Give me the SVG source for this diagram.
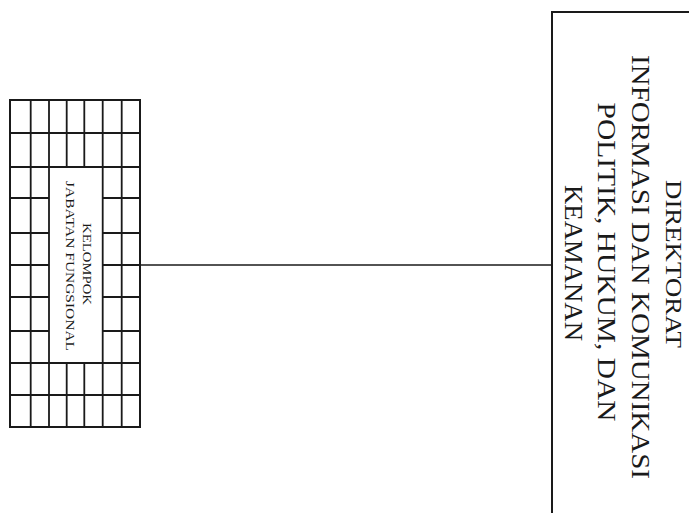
<svg xmlns="http://www.w3.org/2000/svg" width="689" height="513" viewBox="0 0 689 513">
<style>
.g{stroke:#1a1a1a;stroke-width:1.8;fill:none}
.box{stroke:#1a1a1a;stroke-width:2;fill:#fff}
.t{font-family:"Liberation Serif","Times New Roman",serif;fill:#1a1a1a;text-anchor:middle}
.big{font-size:25px}
.small{font-size:12px}
.conn{stroke:#1a1a1a;stroke-width:1.4;fill:none}
</style>
<rect width="689" height="513" fill="#fff"/>
<g id="connectors">
<line class="conn" x1="140" y1="265" x2="552" y2="265"/>
</g>
<g id="node-kelompok">
<rect class="box" x="10" y="100" width="130" height="327"/>
<path class="g" d="M30.7 100V427M49 100V427M102.7 100V427M121.7 100V427M66.7 100V167M84.3 100V167M66.7 363V427M84.3 363V427M10 133H140M10 167H140M10 363H140M10 395H140M10 198H49M10 233H49M10 265H49M10 297H49M10 331H49M102.7 198H140M102.7 233H140M102.7 265H140M102.7 297H140M102.7 331H140"/>
<text class="t small" transform="translate(83,264) rotate(90)" textLength="82" lengthAdjust="spacingAndGlyphs">KELOMPOK</text>
<text class="t small" transform="translate(66,266) rotate(90)" textLength="170" lengthAdjust="spacingAndGlyphs">JABATAN FUNGSIONAL</text>
</g>
<g id="node-direktorat">
<rect class="box" x="552" y="12" width="150" height="520"/>
<text class="t" style="font-size:24px" transform="translate(666,264) rotate(90)" textLength="168" lengthAdjust="spacingAndGlyphs">DIREKTORAT</text>
<text class="t big" transform="translate(632,267) rotate(90)" textLength="424" lengthAdjust="spacingAndGlyphs">INFORMASI DAN KOMUNIKASI</text>
<text class="t big" transform="translate(598,262) rotate(90)" textLength="319" lengthAdjust="spacingAndGlyphs">POLITIK, HUKUM, DAN</text>
<text class="t big" transform="translate(565,263) rotate(90)" textLength="156" lengthAdjust="spacingAndGlyphs">KEAMANAN</text>
</g>
</svg>
